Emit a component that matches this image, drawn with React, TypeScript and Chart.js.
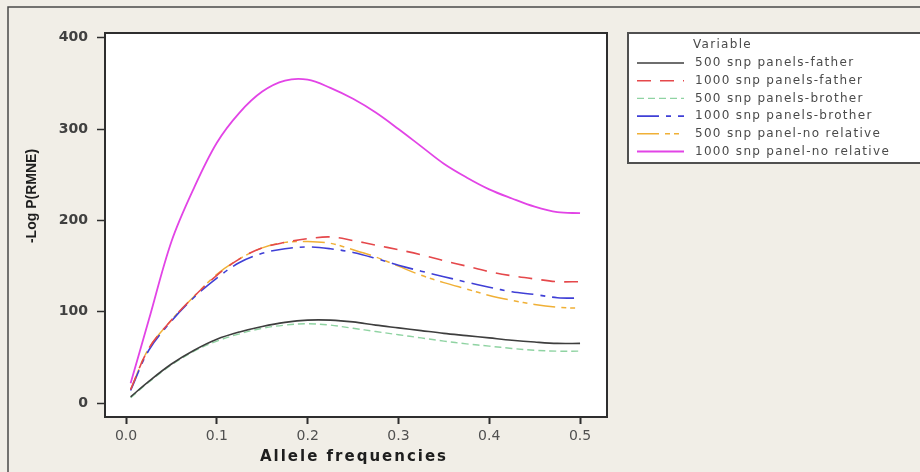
import React, { useEffect, useRef } from "react";
import { Chart, registerables } from "chart.js";

Chart.register(...registerables);

// ---- data ----
const alleleFreq = [0.005, 0.025, 0.05, 0.075, 0.1, 0.125, 0.15, 0.175, 0.2, 0.225, 0.25, 0.275, 0.3, 0.325, 0.35, 0.375, 0.4, 0.425, 0.45, 0.475, 0.5];
const father500 = [7, 24, 43, 58, 70, 78, 84, 88.5, 91, 91, 89, 85.5, 82.5, 79.5, 76.5, 74, 71.5, 69, 67, 65.5, 65.5];
const father1000 = [15, 60, 91, 117, 140, 158, 170, 176, 180, 182, 178, 173, 168, 162.5, 156, 150, 144, 139.5, 136, 133, 133];
const brother500 = [6, 23, 42, 57, 68, 76, 82, 85.5, 87, 85.5, 82, 78.5, 75, 71.5, 68, 65, 62.5, 60, 58, 57, 57];
const brother1000 = [14, 58, 90, 116, 137, 154, 164, 169, 171, 169, 165, 158.5, 151, 144.5, 138.5, 132.5, 127, 122, 119, 115.5, 115];
const noRelative500 = [15, 60, 91, 117, 141, 158, 170, 176, 177, 175, 168, 160, 150, 140, 132, 125, 118, 112.6, 108, 105, 104];
const noRelative1000 = [22, 91, 177, 236, 285, 318, 341, 353, 354, 345, 333, 318, 300, 281, 262, 247, 234, 224, 215, 209, 208];

const seriesLabels = [
  "500 snp panels-father",
  "1000 snp panels-father",
  "500 snp panels-brother",
  "1000 snp panels-brother",
  "500 snp panel-no relative",
  "1000 snp panel-no relative",
];
const legendTitle = "Variable";
const xTitle = "Allele frequencies";
const yTitle = "-Log P(RMNE)";
const xTickValues = [0, 0.1, 0.2, 0.3, 0.4, 0.5];
const yTickValues = [0, 100, 200, 300, 400];

const seriesValues = [father500, father1000, brother500, brother1000, noRelative500, noRelative1000];
const seriesColors = ["#3e3e3e", "#e5484b", "#8fd3a2", "#3f3fd6", "#f0b036", "#e244e6"];
const seriesDashes: number[][] = [[], [14, 9], [7, 4], [22, 7, 5, 7], [22, 6, 5, 4, 5, 6], []];
const seriesWidths = [1.6, 1.6, 1.4, 1.6, 1.5, 1.8];

const BG = "#f1eee7";

const decorPlugin = {
  id: "decor",
  beforeDraw(chart: any) {
    const { ctx, chartArea, width, height } = chart;
    ctx.save();
    ctx.fillStyle = BG;
    ctx.fillRect(0, 0, width, height);
    // outer frame
    ctx.strokeStyle = "#4a4a4a";
    ctx.lineWidth = 1.5;
    ctx.beginPath();
    ctx.moveTo(8, height + 2);
    ctx.lineTo(8, 7);
    ctx.lineTo(width + 2, 7);
    ctx.stroke();
    // plot background
    ctx.fillStyle = "#ffffff";
    ctx.fillRect(chartArea.left, chartArea.top, chartArea.right - chartArea.left, chartArea.bottom - chartArea.top);
    ctx.restore();
  },
  afterDraw(chart: any) {
    const { ctx, chartArea } = chart;
    ctx.save();
    // plot frame
    ctx.strokeStyle = "#2e2e2e";
    ctx.lineWidth = 2;
    ctx.strokeRect(chartArea.left, chartArea.top, chartArea.right - chartArea.left, chartArea.bottom - chartArea.top);

    // axis titles
    ctx.fillStyle = "#1e1e1e";
    ctx.textAlign = "center";
    ctx.textBaseline = "middle";
    ctx.font = "bold 15px 'DejaVu Sans'";
    (ctx as any).letterSpacing = "2px";
    ctx.fillText(xTitle, 354, 457);
    (ctx as any).letterSpacing = "0px";
    ctx.save();
    ctx.translate(32, 196);
    ctx.rotate(-Math.PI / 2);
    ctx.font = "bold 14px 'Liberation Sans'";
    ctx.fillText(yTitle, 0, 0);
    ctx.restore();

    // legend box
    ctx.fillStyle = "#ffffff";
    ctx.fillRect(628, 33, 300, 130);
    ctx.strokeStyle = "#505050";
    ctx.lineWidth = 2;
    ctx.strokeRect(628, 33, 300, 130);

    ctx.textAlign = "left";
    ctx.textBaseline = "middle";
    ctx.font = "12px 'DejaVu Sans'";
    (ctx as any).letterSpacing = "1.3px";
    ctx.fillStyle = "#4a4a4a";
    ctx.fillText(legendTitle, 693, 45);
    chart.data.datasets.forEach((ds: any, i: number) => {
      const y = 63 + i * 17.7;
      ctx.save();
      ctx.strokeStyle = ds.borderColor;
      ctx.lineWidth = ds.borderWidth;
      ctx.setLineDash(ds.borderDash || []);
      ctx.beginPath();
      ctx.moveTo(637, y);
      ctx.lineTo(684, y);
      ctx.stroke();
      ctx.restore();
      ctx.fillStyle = "#4a4a4a";
      ctx.fillText(ds.label, 695, y);
    });
    (ctx as any).letterSpacing = "0px";
    ctx.restore();
  },
};

export default function App() {
  const canvasRef = useRef<HTMLCanvasElement | null>(null);

  useEffect(() => {
    if (!canvasRef.current) return;
    const datasets = seriesLabels.map((label, i) => ({
      label,
      data: alleleFreq.map((x, j) => ({ x, y: seriesValues[i][j] })),
      borderColor: seriesColors[i],
      backgroundColor: seriesColors[i],
      borderDash: seriesDashes[i],
      borderWidth: seriesWidths[i],
      pointRadius: 0,
      fill: false,
      tension: 0.35,
    }));

    const chart = new Chart(canvasRef.current, {
      type: "line",
      data: { datasets },
      plugins: [decorPlugin],
      options: {
        responsive: false,
        animation: false,
        layout: { padding: { left: 0, top: 33, right: 313, bottom: 0 } },
        plugins: { legend: { display: false }, tooltip: { enabled: false }, title: { display: false } },
        scales: {
          x: {
            type: "linear",
            min: -0.0232,
            max: 0.5297,
            afterFit: (s: any) => { s.height = 55; },
            afterBuildTicks: (s: any) => { s.ticks = xTickValues.map((v) => ({ value: v })); },
            border: { display: false },
            grid: { display: true, drawOnChartArea: false, drawTicks: true, tickLength: 7, tickWidth: 2, tickColor: "#2e2e2e" },
            ticks: {
              padding: 4,
              color: "#505050",
              font: { family: "'DejaVu Sans'", size: 14 },
              maxRotation: 0,
              callback: (v: any) => Number(v).toFixed(1),
            },
          },
          y: {
            type: "linear",
            min: -15,
            max: 405,
            afterFit: (s: any) => { s.width = 105; },
            afterBuildTicks: (s: any) => { s.ticks = yTickValues.map((v) => ({ value: v })); },
            border: { display: false },
            grid: { display: true, drawOnChartArea: false, drawTicks: true, tickLength: 8, tickWidth: 1.5, tickColor: "#2e2e2e" },
            ticks: {
              padding: 9,
              color: "#404040",
              font: { family: "'DejaVu Sans'", size: 14, weight: "bold" },
              callback: (v: any) => String(v),
            },
          },
        },
      },
    });
    return () => chart.destroy();
  }, []);

  return (
    <div style={{ position: "fixed", left: 0, top: 0, width: 920, height: 472, background: BG }}>
      <canvas ref={canvasRef} width={920} height={472} style={{ display: "block", width: 920, height: 472 }} />
    </div>
  );
}
